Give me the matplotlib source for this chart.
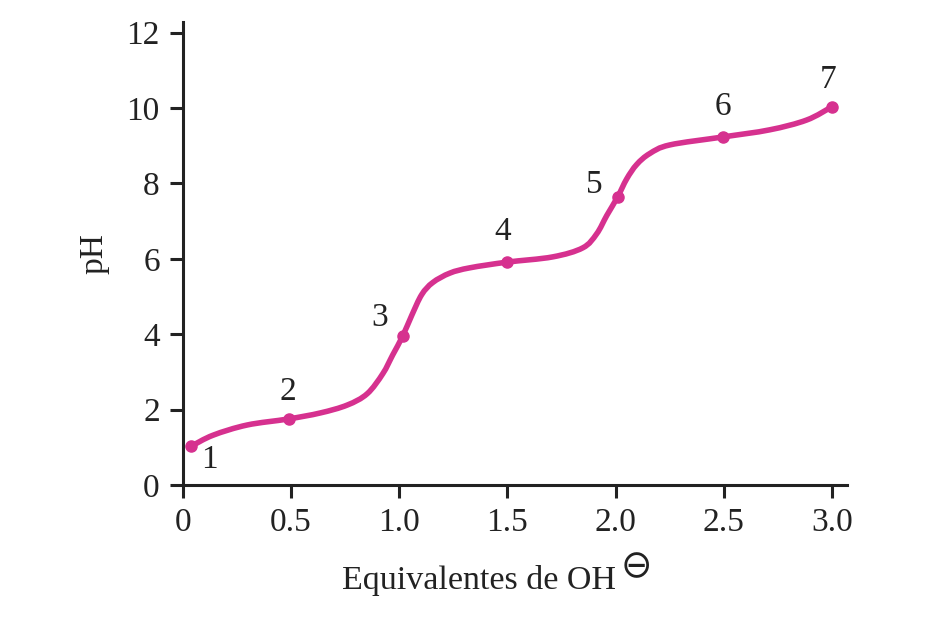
import matplotlib.pyplot as plt
from matplotlib.path import Path
from matplotlib.patches import PathPatch

# curve (equivalents of OH-, pH)
curve_x = [0.040, 0.140, 0.297, 0.487, 0.635, 0.760, 0.852, 0.924, 0.970,
           1.016, 1.058, 1.104, 1.155, 1.234, 1.326, 1.497, 1.709, 1.848,
           1.912, 1.959, 2.009, 2.051, 2.097, 2.157, 2.250, 2.494,
           2.711, 2.882, 2.998]
curve_y = [1.03, 1.32, 1.59, 1.75, 1.91, 2.12, 2.42, 2.95, 3.45,
           3.95, 4.50, 5.05, 5.37, 5.62, 5.76, 5.91, 6.05, 6.29,
           6.66, 7.15, 7.64, 8.12, 8.50, 8.79, 9.02, 9.23,
           9.42, 9.68, 10.03]

# numbered points
pt_x = [0.04, 0.49, 1.016, 1.497, 2.009, 2.494, 2.998]
pt_y = [1.03, 1.75, 3.95, 5.91, 7.64, 9.23, 10.03]
pt_labels = ['1', '2', '3', '4', '5', '6', '7']
label_x = [0.125, 0.485, 0.91, 1.478, 1.903, 2.494, 2.98]
label_y = [0.66, 2.47, 4.43, 6.71, 7.96, 10.03, 10.74]

xticks = [0, 0.5, 1.0, 1.5, 2.0, 2.5, 3.0]
xtick_labels = ['0', '0.5', '1.0', '1.5', '2.0', '2.5', '3.0']
yticks = [0, 2, 4, 6, 8, 10, 12]

color = '#d6318f'
ink = '#222222'


def smooth_path(xs, ys):
    # Catmull-Rom through the read points, drawn as cubic Bezier segments
    pts = list(zip(xs, ys))
    verts = [pts[0]]
    codes = [Path.MOVETO]
    n = len(pts)
    for i in range(n - 1):
        p0 = pts[max(i - 1, 0)]
        p1 = pts[i]
        p2 = pts[i + 1]
        p3 = pts[min(i + 2, n - 1)]
        c1 = (p1[0] + (p2[0] - p0[0]) / 6, p1[1] + (p2[1] - p0[1]) / 6)
        c2 = (p2[0] - (p3[0] - p1[0]) / 6, p2[1] - (p3[1] - p1[1]) / 6)
        verts += [c1, c2, p2]
        codes += [Path.CURVE4] * 3
    return Path(verts, codes)


plt.rcParams['font.family'] = ['Liberation Serif', 'DejaVu Sans']

fig = plt.figure(figsize=(9.4, 6.24), dpi=100)
ax = fig.add_axes([0.1944, 0.2228, 0.9007 - 0.1944, 0.9647 - 0.2228])

ax.add_patch(PathPatch(smooth_path(curve_x, curve_y), fill=False,
                       edgecolor=color, lw=4.0, capstyle='round',
                       joinstyle='round'))
ax.plot(pt_x, pt_y, 'o', color=color, ms=8)
for lx, ly, t in zip(label_x, label_y, pt_labels):
    ax.text(lx, ly, t, ha='center', va='center', fontsize=24, color=ink)

ax.set_xlim(0, 3.067)
ax.set_ylim(0, 12.28)
ax.set_xticks(xticks)
ax.set_xticklabels(xtick_labels)
ax.set_yticks(yticks)

for s in ['top', 'right']:
    ax.spines[s].set_visible(False)
for s in ['left', 'bottom']:
    ax.spines[s].set_linewidth(2.2)
    ax.spines[s].set_color(ink)
ax.tick_params(direction='out', length=9.5, width=2.2, color=ink,
               labelsize=24, labelcolor=ink, pad=7)

ax.set_ylabel('pH', fontsize=24, color=ink, labelpad=12)
fig.text(616 / 940, 1 - 581 / 624, 'Equivalentes de OH', fontsize=24.5,
         color=ink, ha='right', va='center')
fig.text(636 / 940, 1 - 567 / 624, '\u2296', fontsize=27, color=ink,
         family=['DejaVu Sans'], ha='center', va='center')

fig.savefig('out.png', dpi=100)
